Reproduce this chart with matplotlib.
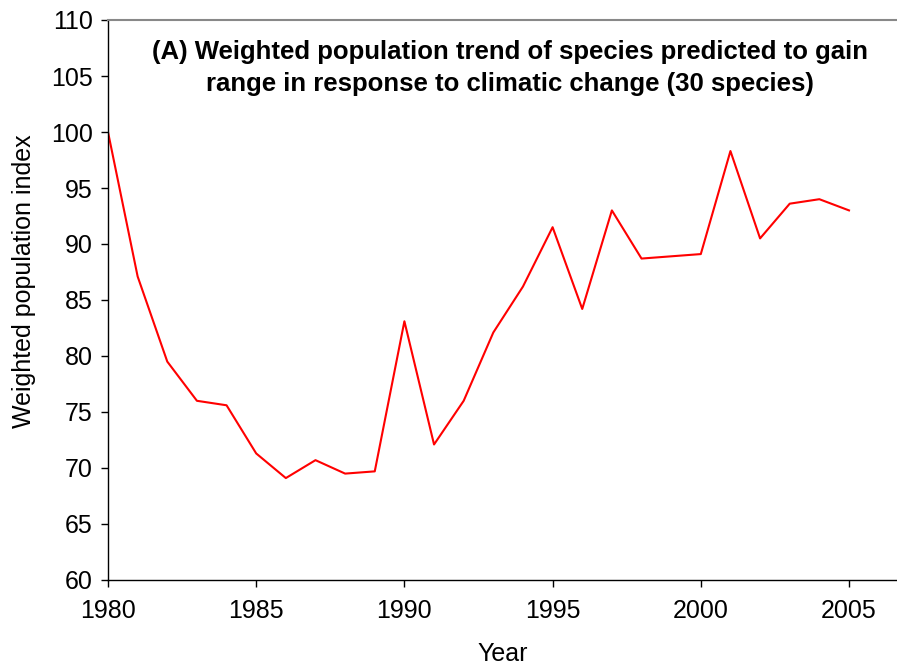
import numpy as np
import matplotlib.pyplot as plt

plt.rcParams['font.family'] = ['Liberation Sans', 'DejaVu Sans']

years = list(range(1980, 2006))
index = [100.0, 87.1, 79.5, 76.0, 75.6, 71.3, 69.1, 70.7, 69.5, 69.7,
         83.1, 72.1, 76.0, 82.1, 86.2, 91.5, 84.2, 93.0, 88.7, 88.9,
         89.1, 98.3, 90.5, 93.6, 94.0, 93.0]

xticks = [1980, 1985, 1990, 1995, 2000, 2005]
yticks = list(range(60, 111, 5))

fig = plt.figure(figsize=(8.97, 6.65), dpi=100)
ax = fig.add_axes([108 / 897, 85 / 665, 789 / 897, 560 / 665])

ax.plot(years, index, color='#ff0000', lw=1.5)

ax.set_xlim(1980, 1980 + 789 / 29.64)
ax.set_ylim(60, 110)
ax.set_xticks(xticks)
ax.set_yticks(yticks)
ax.tick_params(labelsize=18, length=5, width=1)
ax.tick_params(axis='x', pad=9)
ax.tick_params(axis='y', pad=6)

ax.spines['right'].set_visible(False)
ax.spines['top'].set_color('#888888')
ax.spines['top'].set_linewidth(1.5)
for s in ('left', 'bottom'):
    ax.spines[s].set_color('black')
    ax.spines[s].set_linewidth(1)

ax.text(0.51, 0.914, '(A) Weighted population trend of species predicted to gain\n'
        'range in response to climatic change (30 species)',
        transform=ax.transAxes, ha='center', va='center',
        fontsize=18.5, fontweight='bold', linespacing=1.45)

fig.text(503 / 897, 1 - 654 / 665, 'Year', ha='center', va='center', fontsize=18)
fig.text(24 / 897, 1 - 281 / 665, 'Weighted population index', rotation=90,
         ha='center', va='center', fontsize=18)

fig.savefig('out.png', dpi=100)
